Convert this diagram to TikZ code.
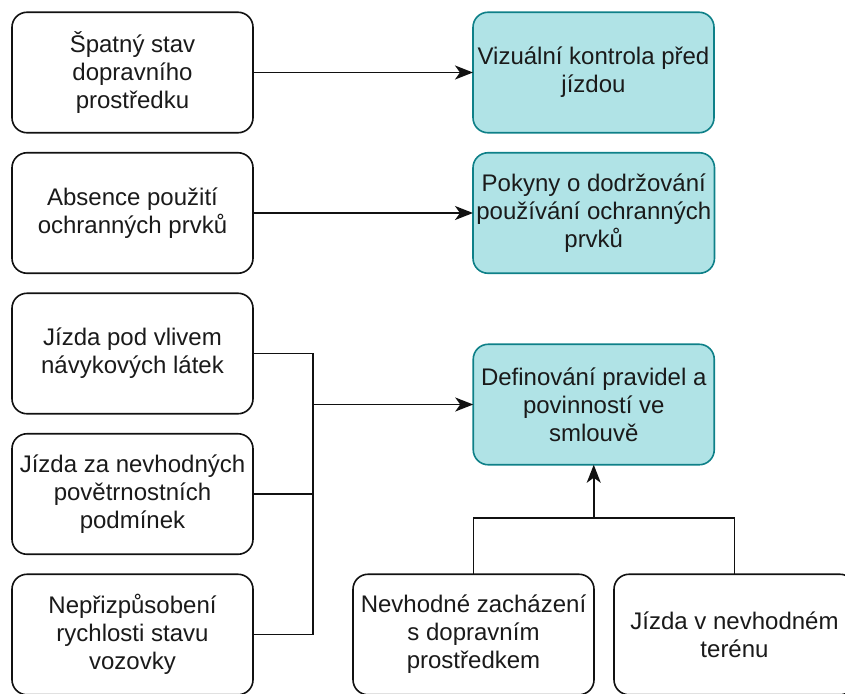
\documentclass[tikz,border=0pt]{standalone}
\usepackage{fontspec}
\setmainfont{Liberation Sans}
\usetikzlibrary{arrows.meta, positioning, calc}
\definecolor{causeborder}{HTML}{111111}
\definecolor{measurefill}{HTML}{B0E3E6}
\definecolor{measureborder}{HTML}{0E8088}
\definecolor{textgray}{HTML}{1A1A1A}

\begin{document}
\begin{tikzpicture}[
    >=Stealth,
    node distance=20pt,
    every node/.style={font=\fontsize{24}{28}\selectfont, text=textgray},
    cause/.style={draw=causeborder, fill=white, rounded corners=15pt,
        line width=1.6pt, minimum height=120.5pt, minimum width=241pt,
        align=center, outer sep=0pt},
    measure/.style={cause, draw=measureborder, fill=measurefill},
    line/.style={line width=1.6pt, causeborder},
    arw/.style={-{Stealth[length=18pt, width=14pt, inset=5pt]}, line width=1.6pt, causeborder},
]

% === Canvas ===
\clip (0,0) rectangle (845pt,-693pt);
\fill[white] (0,0) rectangle (845pt,-693pt);

% === Causes (left column) ===
\node[cause] (stav) at (132.5pt,-72.5pt) {Špatný stav\\dopravního\\prostředku};
\node[cause, below=of stav] (ochrana) {Absence použití\\ochranných prvků};
\node[cause, below=of ochrana] (vliv) {Jízda pod vlivem\\návykových látek};
\node[cause, below=of vliv] (pocasi) {Jízda za nevhodných\\povětrnostních\\podmínek};
\node[cause, below=of pocasi] (rychlost) {Nepřizpůsobení\\rychlosti stavu\\vozovky};

% === Measures (right column) ===
\node[measure, right=220pt of stav] (kontrola) {Vizuální kontrola před\\jízdou};
\node[measure, right=220pt of ochrana] (pokyny) {Pokyny o dodržování\\používání ochranných\\prvků};
\node[measure, below=71pt of pokyny] (smlouva) {Definování pravidel a\\povinností ve\\smlouvě};

% === Causes (bottom row) ===
\node[cause, right=100pt of rychlost] (zachazeni) {Nevhodné zacházení\\s dopravním\\prostředkem};
\node[cause, right=of zachazeni] (teren) {Jízda v nevhodném\\terénu};

% Direct arrows
\draw[arw] (stav) -- (kontrola);
\draw[arw] (ochrana) -- (pokyny);

% Left group joined into one arrow
\coordinate (jn) at ($(vliv.east)+(60pt,0)$);
\draw[line] (vliv.east) -- (jn) |- (rychlost.east);
\draw[line] (pocasi.east) -- (pocasi.east -| jn);
\draw[arw] (smlouva.west -| jn) -- (smlouva.west);

% Bottom group joined into one arrow
\coordinate (bn) at ($(zachazeni.north)+(0,56pt)$);
\draw[line] (zachazeni.north) -- (bn) -| (teren.north);
\draw[arw] (bn -| smlouva.south) -- (smlouva.south);

\end{tikzpicture}
\end{document}
